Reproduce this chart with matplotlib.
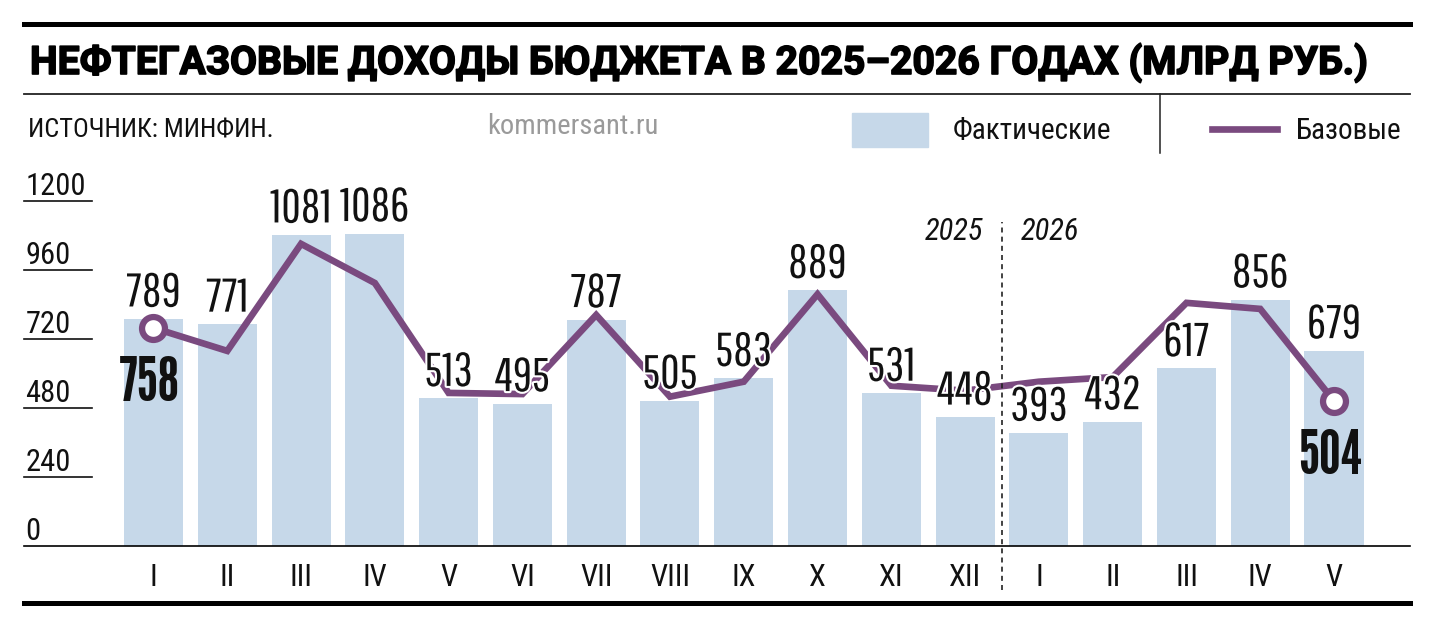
import matplotlib
matplotlib.use("Agg")
import matplotlib.pyplot as plt
import matplotlib.patheffects as pe
from matplotlib.patches import Rectangle
from matplotlib.lines import Line2D
import numpy as np

# --- данные ---
months = ['I', 'II', 'III', 'IV', 'V', 'VI', 'VII', 'VIII', 'IX', 'X', 'XI', 'XII',
          'I', 'II', 'III', 'IV', 'V']
fact = [789, 771, 1081, 1086, 513, 495, 787, 505, 583, 889, 531, 448,
        393, 432, 617, 856, 679]
base = [758, 678, 1050, 914, 532, 528, 803, 519, 571, 875, 557, 540,
        571, 587, 845, 824, 504]
yticks = [0, 240, 480, 720, 960, 1200]

BAR = '#c6d8e9'
LINE = '#7a4a7f'
W, H = 1435, 630

def fx(px):
    return px / W

def fy(py):
    return 1 - py / H

fig = plt.figure(figsize=(W / 100, H / 100), dpi=100)

# --- шапка ---
fig.add_artist(Line2D([fx(24), fx(1410)], [fy(24), fy(24)], color='black', lw=3.6))
fig.add_artist(Line2D([fx(24), fx(1410)], [fy(94), fy(94)], color='#222222', lw=1.3))
fig.add_artist(Line2D([fx(24), fx(1410)], [fy(603), fy(603)], color='black', lw=3.6))
fig.add_artist(Line2D([fx(1160), fx(1160)], [fy(94), fy(153)], color='#222222', lw=1.1))

title = fig.text(fx(30), fy(74), 'НЕФТЕГАЗОВЫЕ ДОХОДЫ БЮДЖЕТА В 2025–2026 ГОДАХ (МЛРД РУБ.)',
                 family=['Roboto', 'DejaVu Sans'], weight='bold', fontsize=26,
                 va='baseline', ha='left',
                 path_effects=[pe.withStroke(linewidth=1.2, foreground='black')])
fig.canvas.draw()
w = title.get_window_extent().width
title.set_fontsize(26 * 1338 / w)

fig.text(fx(28), fy(137), 'ИСТОЧНИК: МИНФИН.', family=['Roboto Condensed', 'DejaVu Sans'],
         fontsize=19, va='baseline', color='#111111')
fig.text(fx(487), fy(134), 'kommersant.ru', family=['Roboto Condensed', 'DejaVu Sans'],
         fontsize=20.5, va='baseline', color='#9a9a9a')

# легенда
fig.add_artist(Rectangle((fx(852), fy(147)), fx(76), 34 / H, color=BAR,
                         transform=fig.transFigure))
fig.text(fx(953), fy(139), 'Фактические', family=['Roboto Condensed', 'DejaVu Sans'],
         fontsize=21, va='baseline', color='#111111')
fig.add_artist(Line2D([fx(1212), fx(1277)], [fy(129), fy(129)], color=LINE, lw=4.8))
fig.text(fx(1296), fy(139), 'Базовые', family=['Roboto Condensed', 'DejaVu Sans'],
         fontsize=21, va='baseline', color='#111111')

# --- график ---
ax = fig.add_axes([fx(24), 84 / H, 1386 / W, 366 / H])
x = np.arange(len(months))
ax.bar(x, fact, width=0.8, color=BAR, zorder=1)
ax.plot(x, base, color=LINE, lw=4.8, solid_joinstyle='miter', zorder=2)
ax.plot([x[0], x[-1]], [base[0], base[-1]], 'o', ms=16.5, mfc='white', mec=LINE,
        mew=4.5, zorder=3)

ax.set_xlim(-1.755, 17.03)
ax.set_ylim(0, 1272)
for s in ['top', 'right', 'left']:
    ax.spines[s].set_visible(False)
ax.spines['bottom'].set_linewidth(1.2)
ax.set_yticks([])
ax.set_xticks(x)
ax.set_xticklabels(months, family=['Roboto Condensed', 'DejaVu Sans'], fontsize=22,
                   color='#111111')
ax.tick_params(axis='x', length=0, pad=12)

# шкала слева
halo = [pe.withStroke(linewidth=3, foreground='white')]
ytr = ax.get_yaxis_transform()
for v in yticks:
    if v > 0:
        ax.plot([0, 0.049], [v, v], color='#111111', lw=1.2, transform=ytr, clip_on=False)
    ax.annotate(str(v), (0.001, v), xycoords=ytr, xytext=(0, 4), textcoords='offset points',
                family=['Roboto Condensed', 'DejaVu Sans'], fontsize=22, va='baseline',
                ha='left', color='#111111')

# подписи столбцов
for i, v in enumerate(fact):
    ax.annotate(str(v), (x[i], v), xytext=(0, 9), textcoords='offset points',
                ha='center', va='baseline', family=['Pathway Gothic One', 'DejaVu Sans'],
                fontsize=34, color='#111111', path_effects=halo, zorder=5)

# первая и последняя точки линии
for i in [0, len(base) - 1]:
    ax.annotate(str(base[i]), (x[i], base[i]), xytext=(-3, -20), textcoords='offset points',
                ha='center', va='top', family=['League Gothic', 'DejaVu Sans'],
                fontsize=44, color='#111111', zorder=5)

# граница 2025 / 2026
ax.plot([11.5, 11.5], [-153, 1126], color='#222222', lw=1.2, ls=(0, (3, 2.5)),
        clip_on=False, zorder=4)
ax.text(11.25, 1063, '2025', ha='right', va='baseline', style='italic',
        family=['Roboto Condensed', 'DejaVu Sans'], fontsize=22, color='#111111')
ax.text(11.75, 1063, '2026', ha='left', va='baseline', style='italic',
        family=['Roboto Condensed', 'DejaVu Sans'], fontsize=22, color='#111111')

fig.savefig('out.png', dpi=100)
